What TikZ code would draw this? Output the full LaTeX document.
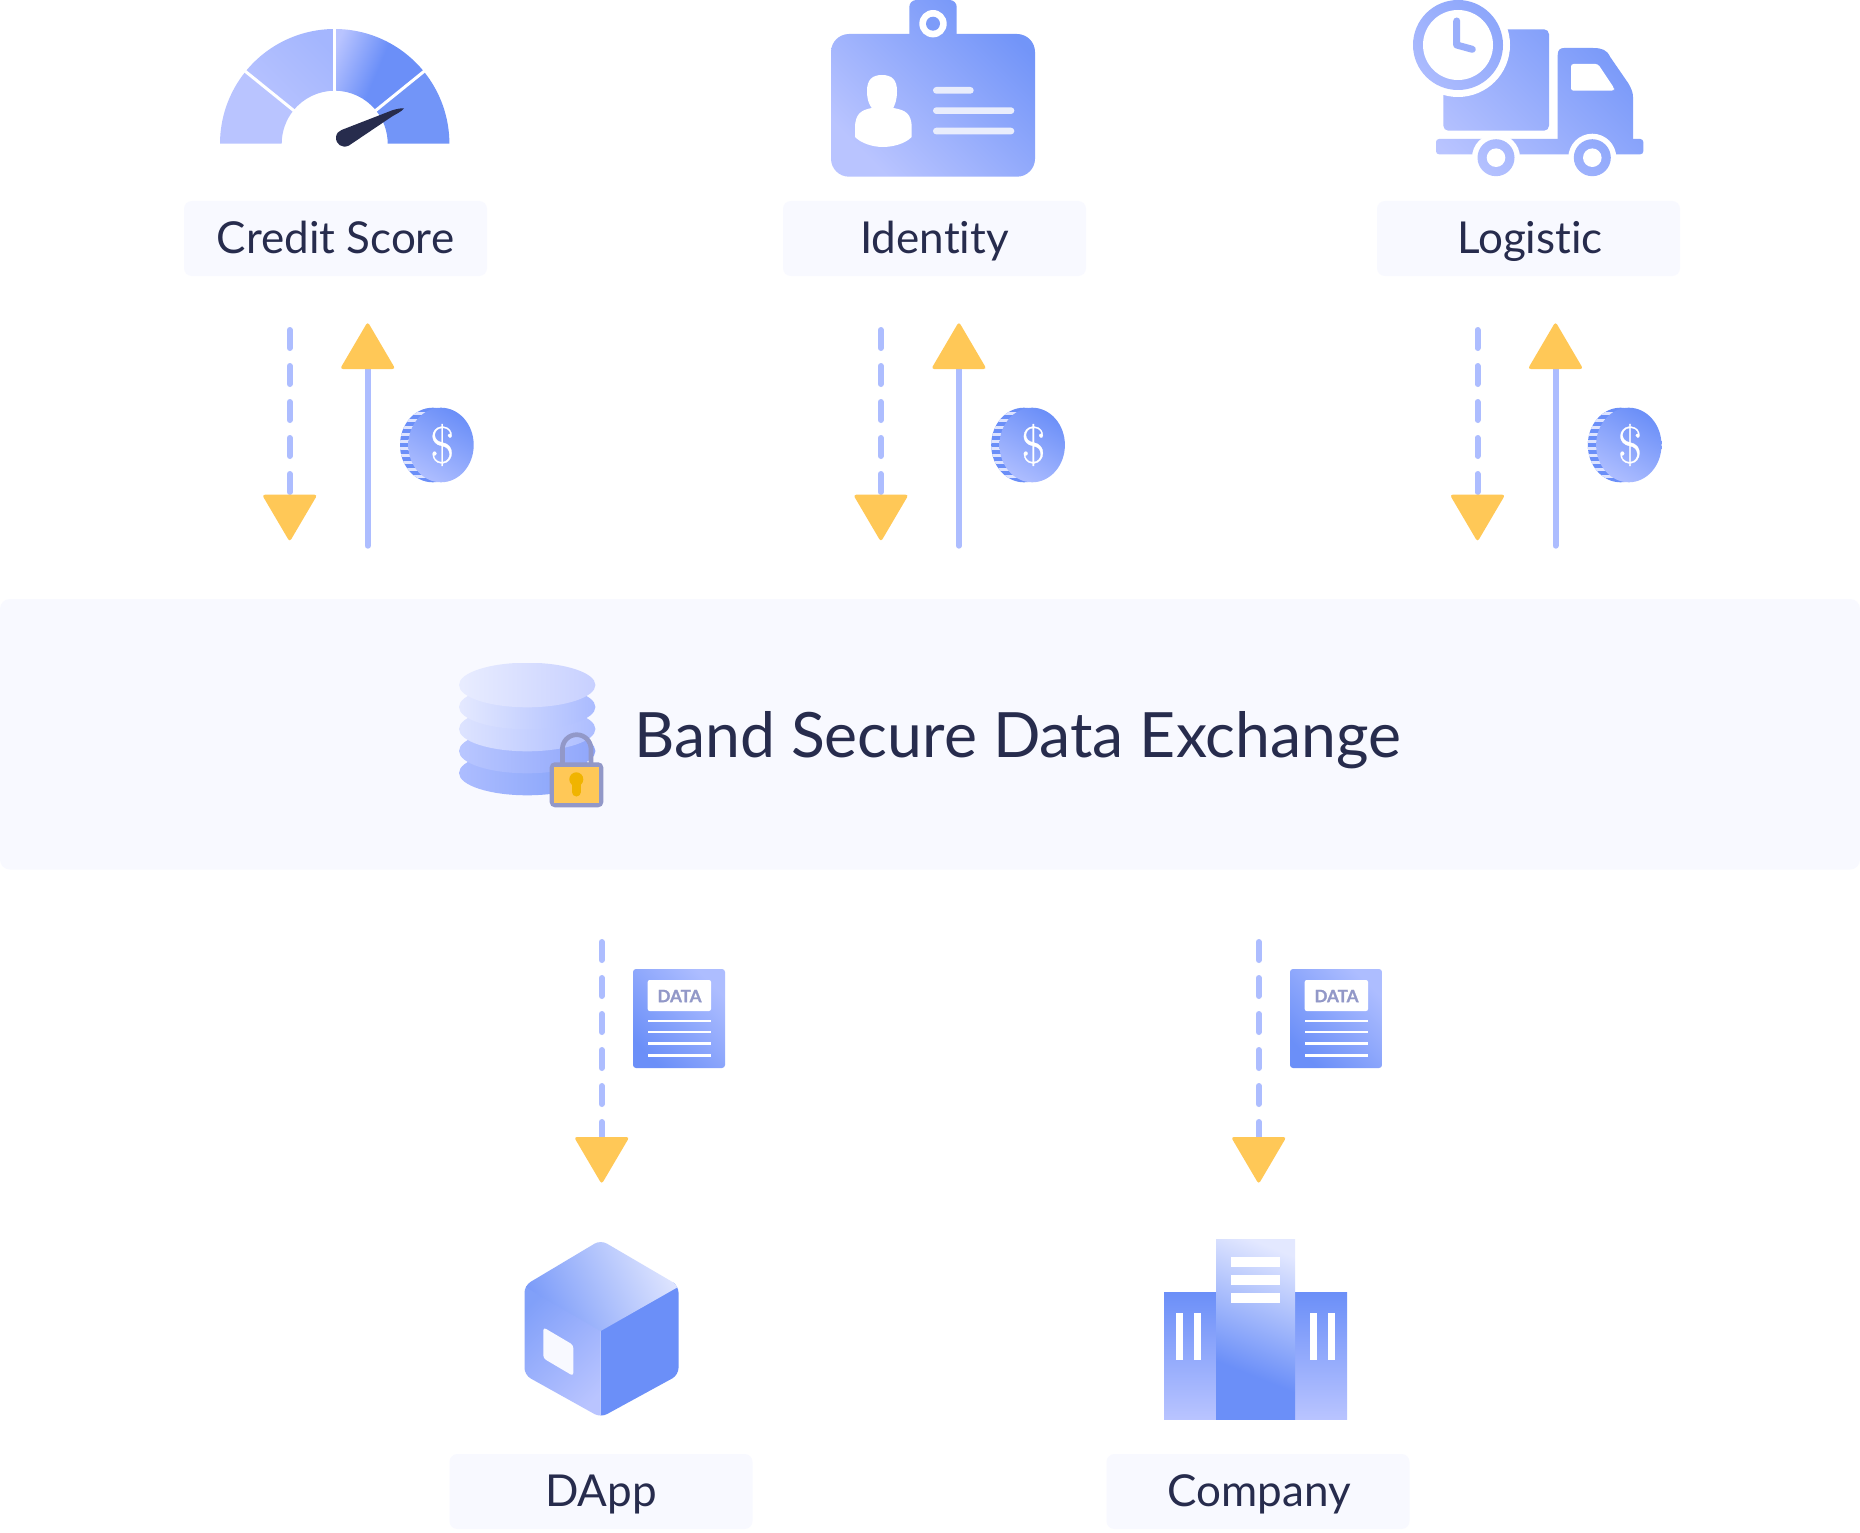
\documentclass[tikz,border=0pt]{standalone}
\usepackage{fontspec}
\setmainfont{Lato}[Ligatures=NoCommon]
\newfontfamily\datafont{Lato}[FakeBold=1.2]
\newfontfamily\coinfont{Latin Modern Roman}[FakeBold=0.5]
\usetikzlibrary{calc}
\definecolor{ink}{HTML}{272C4D}
\definecolor{panel}{HTML}{F8F9FF}
\definecolor{bluefull}{HTML}{6B8FF8}
\definecolor{bluemid}{HTML}{8FA6FB}
\definecolor{bluesoft}{HTML}{ADBDFF}
\definecolor{bluepale}{HTML}{B9C4FF}
\definecolor{bluewash}{HTML}{E3E8FF}
\definecolor{gold}{HTML}{FFC857}
\definecolor{goldkey}{HTML}{F0B400}
\definecolor{slate}{HTML}{9298C8}
\definecolor{cardline}{HTML}{E9EDFC}
\pgfdeclareverticalshading{gaugeramp}{100bp}{color(0bp)=(bluefull); color(46bp)=(bluefull); color(54bp)=(bluepale); color(100bp)=(bluepale)}
\pgfdeclareverticalshading{towerramp}{100bp}{color(0bp)=(bluefull); color(38bp)=(bluefull); color(59bp)=(bluewash); color(100bp)=(bluewash)}
\newcommand\gradfill[6]{\begin{scope}\clip #1;\shade[top color=#4,bottom color=#5,shading angle=#6] (#2) rectangle (#3);\end{scope}}
\newcommand\rampfill[5]{\begin{scope}\clip #1;\shade[shading=#4,shading angle=#5] (#2) rectangle (#3);\end{scope}}
\newcommand\gaugeseg[2]{(#1:114.7pt) arc[start angle=#1,end angle=#2,radius=114.7pt] -- (#2:53pt) arc[start angle=#2,end angle=#1,radius=53pt] -- cycle}
\newcommand\truckpart[1]{\gradfill{#1}{1410,0}{1650,180}{bluefull!95!white}{bluepale}{-45}}
\tikzset{
  labelbox/.style={fill=panel,rounded corners=8pt,inner sep=0pt,minimum width=303pt,minimum height=75pt,text height=30pt,text depth=1pt,text=ink,font=\fontsize{44}{50}\selectfont},
  dashline/.style={draw=bluesoft,line width=6pt,line cap=round,dash pattern=on 18pt off 18pt},
  solidline/.style={draw=bluesoft,line width=6pt,line cap=round},
  headtip/.style={fill=gold,rounded corners=3pt},
  whitebar/.style={fill=white},
  cardbar/.style={fill=cardline,rounded corners=3.3pt},
}
\begin{document}
\begin{tikzpicture}[x=1pt,y=-1pt]
\useasboundingbox (0,0) rectangle (1860,1533);
\fill[white] (0,0) rectangle (1860,1533);

% label boxes
\node[labelbox] (credit) at (335.5,238.5) {Credit Score};
\node[labelbox] (identity) at (934.5,238.5) {Identity};
\node[labelbox] (logistic) at (1528.5,238.5) {\hspace*{3pt}Logistic};
\node[labelbox] (dapp) at (601,1491.5) {DApp};
\node[labelbox] (company) at (1258,1491.5) {\hspace*{3pt}Company};

% central band
\node[fill=panel,rounded corners=10pt,minimum width=1860pt,minimum height=270.5pt,inner sep=0pt] (band) at (930,734.25) {};
\node[anchor=base west,text=ink,inner sep=0pt,font=\fontsize{62.5}{70}\selectfont] (title) at (634,757) {Band Secure Data Exchange};

% gauge
\begin{scope}[shift={(334.7,143.7)}]
\fill[bluepale] \gaugeseg{180}{141};
\gradfill{\gaugeseg{141}{90}}{-95,-118}{0,-23}{bluesoft!70!bluemid}{bluepale}{-45}
\rampfill{\gaugeseg{90}{39}}{-124,-244.5}{176,55.5}{gaugeramp}{67}
\fill[bluefull!95!white] \gaugeseg{39}{0};
\draw[white,line width=3pt] (141:52pt) -- (141:116pt);
\draw[white,line width=3pt] (90:52pt) -- (90:116pt);
\draw[white,line width=3pt] (39:52pt) -- (39:116pt);
\end{scope}
\fill[ink] (404,108.3) .. controls (402,111.5) and (396,114) .. (392,116.5) -- (349,145.5) .. controls (342,149) and (335.5,144) .. (336,137) .. controls (336.5,133.5) and (338.5,131) .. (341.5,130) -- (393,110) .. controls (397,109) and (401,108) .. (404,108.3) -- cycle;

% identity card
\gradfill{[rounded corners=18pt] (831,34) rectangle (1035,176.7)}{831,0}{1035,177}{bluefull!95!white}{bluepale}{-45}
\gradfill{[rounded corners=7pt] (909.3,0) -- (956.7,0) -- (956.7,40) -- (909.3,40) -- cycle}{831,0}{1035,177}{bluefull!95!white}{bluepale}{-45}
\fill[white] (933,23.7) circle[radius=13.7pt];
\fill[bluefull!88!white] (933,23.7) circle[radius=7pt];
\fill[white] (882,75) .. controls (892,75) and (897,80) .. (897,91) .. controls (897,100) and (895,104) .. (893.3,108) .. controls (905,110) and (911.7,113) .. (911.7,128) -- (911.7,137) .. controls (905,144) and (892,147) .. (883,147) .. controls (872,147) and (861,143) .. (855,137) -- (855,128) .. controls (855,113) and (862,110) .. (871.7,108) .. controls (869,104) and (867,100) .. (867,91) .. controls (867,80) and (872,75) .. (882,75) -- cycle;
\fill[cardbar] (933,87) rectangle (973.7,93.7);
\fill[cardbar] (933,107.3) rectangle (1014.3,114);
\fill[cardbar] (933,127.7) rectangle (1014.3,134.4);

% truck
\truckpart{[rounded corners=5pt] (1443.3,29.3) rectangle (1549,130.7)}
\fill[white] (1458,45) circle[radius=52pt];
\truckpart{(1458,45) circle[radius=45pt]}
\fill[white] (1458,45) circle[radius=35pt];
\draw[bluemid!90!white,line width=7pt,line cap=round,line join=round] (1456.7,21) -- (1456.7,45) -- (1472.3,49.3);
\truckpart{(1557.7,145) -- (1557.7,55) .. controls (1557.7,50) and (1560,48) .. (1564,48) -- (1593,48) .. controls (1602,48) and (1607,50) .. (1610,56.7) -- (1628.3,83.3) .. controls (1631,88) and (1633,92) .. (1633,97) -- (1633,145) -- cycle}
\truckpart{[rounded corners=3pt] (1436,139) rectangle (1643.3,154.3)}
\fill[white,rounded corners=2.5pt] (1571,64) -- (1598,64) -- (1614,88) -- (1614,90.7) -- (1571,90.7) -- cycle;
\fill[white] (1496,157.7) circle[radius=24pt];
\fill[white] (1592.3,157.7) circle[radius=24pt];
\truckpart{(1496,157.7) circle[radius=18.5pt]}
\truckpart{(1592.3,157.7) circle[radius=18.5pt]}
\fill[white] (1496,157.7) circle[radius=9.3pt];
\fill[white] (1592.3,157.7) circle[radius=9.3pt];

% upper arrows and coins
\foreach \nm/\dx in {a/0,b/591.2,c/1187.8}{
  \begin{scope}[xshift=\dx pt]
    \coordinate (dn\nm s) at (289.7,330);
    \coordinate (dn\nm e) at (289.7,497);
    \coordinate (up\nm s) at (367.7,545.7);
    \coordinate (up\nm e) at (367.7,367);
    \draw[dashline] (dn\nm s) -- (dn\nm e);
    \draw[solidline] (up\nm s) -- (up\nm e);
    \fill[headtip] (262,494.7) -- (317.4,494.7) -- (289.7,541.8) -- cycle;
    \fill[headtip] (340,369) -- (395.4,369) -- (367.7,321.8) -- cycle;
    \begin{scope}
      \clip (432.7,445) ellipse[x radius=32.7pt,y radius=37.3pt];
      \fill[bluefull] (395,405) rectangle (445,485);
      \foreach \yy in {412,419,426,433,440,447,454,461,468,475}{\fill[bluewash!85!bluepale] (395,\yy) rectangle (445,\yy+3);}
    \end{scope}
    \gradfill{(441,445) ellipse[x radius=32.7pt,y radius=37.3pt]}{408,407}{474,483}{bluefull}{bluesoft}{-30}
    \node[text=white,inner sep=0pt,font=\fontsize{52}{56}\coinfont] (coin\nm) at (442.2,445) {\$};
  \end{scope}
}

% lower arrows and data sheets
\foreach \nm/\dx in {d/0,e/657}{
  \begin{scope}[xshift=\dx pt]
    \coordinate (low\nm s) at (601.7,942);
    \coordinate (low\nm e) at (601.7,1139);
    \draw[dashline] (low\nm s) -- (low\nm e);
    \fill[headtip] (574,1137) -- (629.4,1137) -- (601.7,1184.1) -- cycle;
    \gradfill{[rounded corners=3pt] (633,969) rectangle (725,1068)}{633,969}{725,1068}{bluesoft}{bluefull}{-45}
    \fill[white,rounded corners=2pt] (647.7,980) rectangle (711,1011);
    \node[text=slate,inner sep=0pt,font=\fontsize{17}{20}\datafont\bfseries] (data\nm) at (679.5,996) {DATA};
    \foreach \yy in {1020.7,1032,1043.3,1055.3}{\fill[white] (647.7,\yy-1.2) rectangle (711,\yy+1.2);}
  \end{scope}
}

% database
\gradfill{(527.2,773) ellipse[x radius=68.2pt,y radius=22.3pt]}{459,751}{596,796}{bluefull!85!white}{bluesoft}{-90}
\gradfill{(527.2,751) ellipse[x radius=68.2pt,y radius=22.3pt]}{459,729}{596,774}{bluemid}{bluesoft!85!white}{-90}
\gradfill{(527.2,729) ellipse[x radius=68.2pt,y radius=22.3pt]}{459,707}{596,752}{bluesoft}{bluewash!90!bluesoft}{-90}
\gradfill{(527.2,707) ellipse[x radius=68.2pt,y radius=22.3pt]}{459,685}{596,730}{bluesoft!95!bluefull}{bluewash!95!white}{-90}
\gradfill{(527.2,685) ellipse[x radius=68.2pt,y radius=22.3pt]}{459,663}{596,708}{bluepale!80!white}{bluewash!80!white}{-90}
% padlock
\draw[slate,line width=4.7pt] (562.4,763) -- (562.4,749) arc[start angle=180,end angle=0,radius=14.3pt] -- (591,763);
\fill[slate,rounded corners=5pt] (549.7,762.3) rectangle (603.3,807.3);
\fill[gold] (554.3,767) rectangle (599,802.7);
\fill[goldkey] (576.3,779.3) circle[radius=7pt];
\draw[goldkey,line width=9pt,line cap=round] (576.3,780) -- (576.3,792);

% cube
\begin{scope}
\clip[rounded corners=7pt] (600.7,1240) -- (678.5,1285.5) -- (678.5,1375) -- (600.7,1417.5) -- (524.5,1375) -- (524.5,1285.5) -- cycle;
\fill[bluefull] (600.7,1325) -- (685,1275) -- (685,1425) -- (600.7,1425) -- cycle;
\gradfill{(515,1270) -- (600.7,1320) -- (600.7,1425) -- (515,1425) -- cycle}{515,1286}{601,1425}{bluefull!85!white}{bluepale}{45}
\gradfill{(520,1283.7) -- (600.7,1331) -- (685,1283) -- (600.7,1235) -- cycle}{520,1235}{685,1331}{bluewash}{bluefull!90!white}{-65}
\end{scope}
\fill[panel,rounded corners=3pt] (543.3,1327.3) -- (573.3,1345) -- (573.3,1376) -- (543.3,1358.3) -- cycle;

% company
\gradfill{(1164,1292) rectangle (1216,1419.3)}{1164,1292}{1216,1419.3}{bluefull}{bluepale}{0}
\gradfill{(1295,1292) rectangle (1347,1419.3)}{1295,1292}{1347,1419.3}{bluefull}{bluepale}{0}
\rampfill{(1216,1239.3) rectangle (1295,1419.3)}{1125,1157}{1425,1457}{towerramp}{-22}
\foreach \yy in {1257.3,1275.3,1293.3}{\fill[whitebar] (1231,\yy) rectangle (1280,\yy+9.4);}
\foreach \xx in {1176,1194.3,1310,1328.3}{\fill[whitebar] (\xx,1313) rectangle (\xx+6.6,1360.3);}
\end{tikzpicture}
\end{document}
